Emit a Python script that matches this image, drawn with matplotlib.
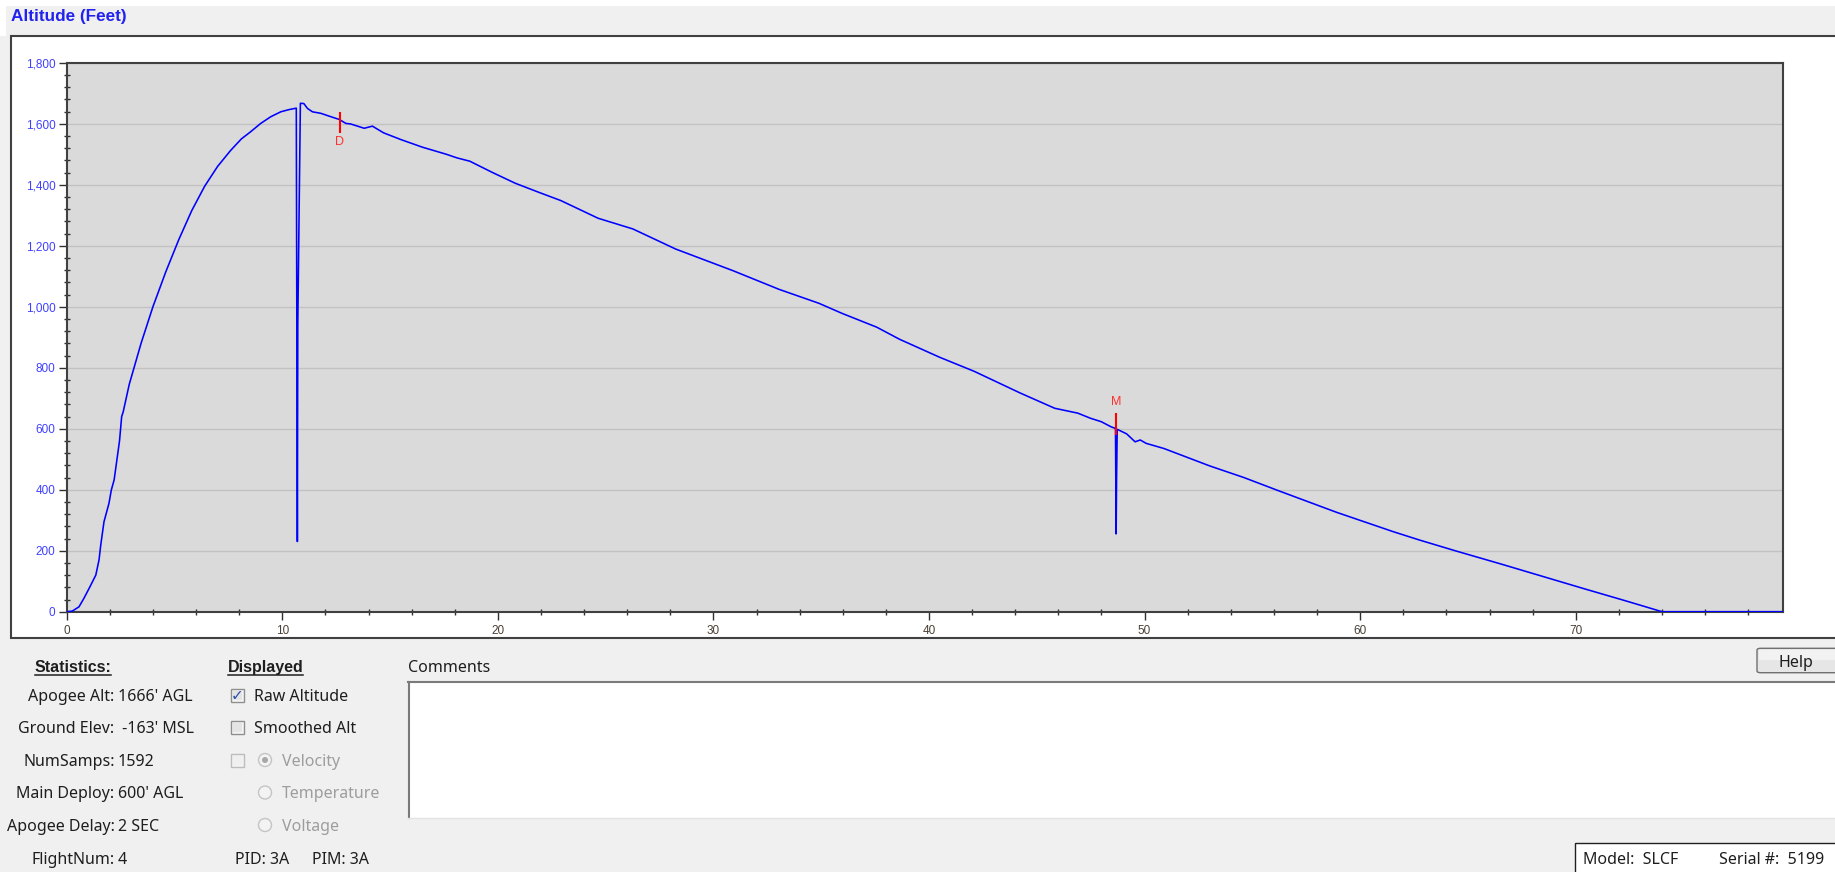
import matplotlib
matplotlib.use("Agg")
import matplotlib.pyplot as plt
from matplotlib.patches import Rectangle, Ellipse, FancyBboxPatch
from matplotlib.lines import Line2D
from matplotlib.ticker import MultipleLocator, FuncFormatter

W, H = 1835, 872

# ---------------- data ----------------
time_s = [0.0, 0.26, 0.57, 0.8, 1.08, 1.35, 1.5, 1.58, 1.73, 1.96, 2.07, 2.2,
          2.45, 2.55, 2.62, 2.9, 3.45, 4.0, 4.6, 5.2, 5.8, 6.4, 7.0, 7.6, 8.1,
          8.54, 9.0, 9.47, 9.93, 10.3, 10.65, 10.70, 10.72, 10.84, 11.0, 11.17,
          11.4, 11.79, 12.25, 12.64, 12.95, 13.18, 13.8, 14.18, 14.7, 15.5,
          16.5, 17.6, 18.1, 18.7, 19.75, 20.8, 21.9, 22.92, 24.65, 26.26,
          28.25, 30.91, 33.04, 34.9, 35.97, 37.57, 38.64, 40.5, 42.1, 44.23,
          45.83, 46.9, 47.5, 47.99, 48.45, 48.65, 48.68, 48.70, 48.73, 49.17,
          49.56, 49.8, 50.07, 50.9, 53.02, 54.6, 56.2, 58.9, 61.55, 62.75,
          64.4, 66.5, 68.5, 70.5, 72.2, 73.2, 74.0, 79.6]
altitude_ft = [0, 2, 16, 44, 82, 120, 170, 219, 295, 355, 399, 432,
               560, 640, 655, 745, 880, 1000, 1115, 1220, 1315, 1395, 1460, 1512, 1550,
               1574, 1601, 1623, 1639, 1646, 1651, 230, 945, 1667, 1666, 1650,
               1639, 1634, 1623, 1614, 1601, 1599, 1585, 1592, 1570, 1548,
               1523, 1500, 1488, 1477, 1440, 1405, 1375, 1348, 1290, 1255,
               1189, 1118, 1057, 1011, 978, 933, 893, 834, 788, 717,
               667, 651, 634, 623, 606, 601, 255, 431, 598, 583,
               557, 563, 552, 535, 478, 440, 397, 326, 262, 235,
               200, 157, 115, 73, 38, 17, 0, 0]
assert len(time_s) == len(altitude_ft)

event_labels = ["D", "M"]
event_times = [12.67, 48.68]
event_low = [1568, 580]
event_high = [1640, 651]
event_label_alt = [1541, 688]

x_max = 79.6
y_max = 1800

stats_labels = ["Apogee Alt:", "Ground Elev:", "NumSamps:", "Main Deploy:",
                "Apogee Delay:", "FlightNum:"]
stats_values = ["1666' AGL", " -163' MSL", "1592", "600' AGL", "2 SEC", "4"]
row_y = [695.5, 727.5, 760.0, 792.5, 825.0, 857.8]

# ---------------- figure ----------------
fig = plt.figure(figsize=(W / 100, H / 100), dpi=100, facecolor='#f0f0f0')


def fx(x):
    return x / W


def fy(y):
    return 1 - y / H


def rect_px(x0, y0, x1, y1, zorder=1, **kw):
    r = Rectangle((fx(x0), fy(y1)), (x1 - x0) / W, (y1 - y0) / H,
                  transform=fig.transFigure, zorder=zorder, **kw)
    fig.add_artist(r)
    return r


def line_px(xs, ys, **kw):
    fig.add_artist(Line2D([fx(v) for v in xs], [fy(v) for v in ys],
                          transform=fig.transFigure, **kw))


UI = 'Noto Sans'
FS = 11.5
CAP = 5.7  # half cap height in px for baseline placement


def ui_text(x, yc, s, **kw):
    kw.setdefault('fontsize', FS)
    kw.setdefault('family', UI)
    kw.setdefault('color', '#1e1e1e')
    kw.setdefault('ha', 'left')
    return fig.text(fx(x), fy(yc + CAP), s, va='baseline', **kw)


# top white strip
rect_px(0, 0, W, 6, fc='white', ec='none', zorder=-5)
rect_px(0, 0, 6, 36, fc='white', ec='none', zorder=-5)

# title
fig.text(fx(11), fy(17), "Altitude (Feet)", ha='left', va='center',
         fontsize=12.3, fontweight='bold', color='#2222ee', family='Liberation Sans')

# chart frame (behind the axes)
rect_px(11, 36, W + 5, 638, fc='white', ec='#404040', lw=1.5, zorder=-5)

# ---------------- axes ----------------
ax = fig.add_axes([fx(66.7), fy(611.7), (1782.7 - 66.7) / W, (611.7 - 62.7) / H])
ax.set_zorder(2)
ax.set_facecolor('#dadada')
ax.plot(time_s, altitude_ft, color='#0000ff', lw=1.15, zorder=3)
ax.vlines(event_times, event_low, event_high, colors='#ff0000', lw=1.5, zorder=5)
for lbl, t, ya in zip(event_labels, event_times, event_label_alt):
    ax.text(t, ya, lbl, ha='center', va='center', color='#ff3030',
            fontsize=9, family='Liberation Sans', zorder=6)

ax.set_xlim(0, x_max)
ax.set_ylim(0, y_max)
ax.xaxis.set_major_locator(MultipleLocator(10))
ax.xaxis.set_minor_locator(MultipleLocator(2))
ax.yaxis.set_major_locator(MultipleLocator(200))
ax.yaxis.set_minor_locator(MultipleLocator(40))
ax.yaxis.set_major_formatter(FuncFormatter(lambda v, p: f"{v:,.0f}"))
ax.xaxis.set_major_formatter(FuncFormatter(lambda v, p: f"{v:.0f}"))

ax.tick_params(axis='y', which='major', direction='out', length=5.5, width=1,
               color='#303030', labelcolor='#4040ff', labelsize=8.5, pad=2.5)
ax.tick_params(axis='y', which='minor', direction='inout', length=4, width=1,
               color='#303030')
ax.tick_params(axis='x', which='major', direction='out', length=5.5, width=1,
               color='#303030', labelcolor='#4a3f35', labelsize=8.5, pad=4)
ax.tick_params(axis='x', which='minor', direction='inout', length=4, width=1,
               color='#303030')
for lab in ax.get_xticklabels() + ax.get_yticklabels():
    lab.set_family('Liberation Sans')

ax.yaxis.grid(True, which='major', color='#c2c2c2', lw=1.0)
ax.set_axisbelow(True)
for sp in ax.spines.values():
    sp.set_color('#404040')
    sp.set_linewidth(1.5)

# ---------------- bottom panel ----------------
fig.text(fx(72.9), fy(666.7 + CAP), "Statistics:", ha='center', va='baseline',
         fontsize=FS, fontweight='bold', family='Liberation Sans', color='#1e1e1e')
line_px([35, 110.7], [674.5, 674.5], color='#1e1e1e', lw=1.1)
fig.text(fx(228.3), fy(666.7 + CAP), "Displayed", ha='left', va='baseline',
         fontsize=FS, fontweight='bold', family='Liberation Sans', color='#1e1e1e')
line_px([228.3, 303.3], [674.5, 674.5], color='#1e1e1e', lw=1.1)

for lbl, val, yc in zip(stats_labels, stats_values, row_y):
    ui_text(114.5, yc, lbl, ha='right')
    ui_text(118.0, yc, val)


def checkbox(xc, yc, enabled=True, checked=False):
    ec = '#8e8f8f' if enabled else '#bcbcbc'
    rect_px(xc - 6.5, yc - 6.5, xc + 6.5, yc + 6.5,
            fc='#f4f4f4' if enabled else '#f2f2f2', ec=ec, lw=1.0)
    rect_px(xc - 4.5, yc - 4.5, xc + 4.5, yc + 4.5,
            fc='#e4e4e4' if enabled else '#efefef', ec='none')
    if checked:
        fig.text(fx(xc + 0.5), fy(yc), "\u2713", ha='center', va='center', fontsize=11,
                 color='#2c4fa8', family='DejaVu Sans', fontweight='bold')


def radio(xc, yc, selected=False):
    fig.add_artist(Ellipse((fx(xc), fy(yc)), 13 / W, 13 / H, transform=fig.transFigure,
                           fc='#f3f3f3', ec='#c4c4c4', lw=1.0))
    if selected:
        fig.add_artist(Ellipse((fx(xc), fy(yc)), 6 / W, 6 / H, transform=fig.transFigure,
                               fc='#a8a8a8', ec='none'))


checkbox(237.0, row_y[0], checked=True)
ui_text(254.0, row_y[0], "Raw Altitude")
checkbox(237.0, row_y[1])
ui_text(254.0, row_y[1], "Smoothed Alt")
checkbox(237.0, row_y[2], enabled=False)
radio(265.0, row_y[2], selected=True)
ui_text(281.5, row_y[2], "Velocity", color='#9d9d9d')
radio(265.0, row_y[3])
ui_text(281.5, row_y[3], "Temperature", color='#9d9d9d')
radio(265.0, row_y[4])
ui_text(281.5, row_y[4], "Voltage", color='#9d9d9d')
ui_text(235, row_y[5], "PID: 3A")
ui_text(311.7, row_y[5], "PIM: 3A")

# Comments
ui_text(408.3, 666.0, "Comments")
rect_px(408.3, 681.7, W + 5, 818.3, fc='white', ec='none')
line_px([408.3, W + 5], [682.2, 682.2], color='#7a7a7a', lw=1.5)
line_px([409.0, 409.0], [681.7, 818.3], color='#7a7a7a', lw=1.5)
line_px([408.3, W + 5], [818.3, 818.3], color='#e3e3e3', lw=1.0)

# Help button
fig.add_artist(FancyBboxPatch((fx(1757), fy(672.7)), (1850 - 1757) / W, (672.7 - 648.3) / H,
                              boxstyle="round,pad=0,rounding_size=0.002",
                              transform=fig.transFigure, fc='#e6e6e6', ec='#707070', lw=1.0))
rect_px(1759, 650, 1850, 660, fc='#f2f2f2', ec='none')
ui_text(1795.7, 661.5, "Help", ha='center')

# Model box
rect_px(1575, 843.3, W + 5, H + 5, fc='white', ec='#202020', lw=1.0)
ui_text(1582.7, 858.3, "Model:  SLCF")
ui_text(1719.3, 858.3, "Serial #:  5199")

fig.savefig("out.png", dpi=100, facecolor=fig.get_facecolor())
